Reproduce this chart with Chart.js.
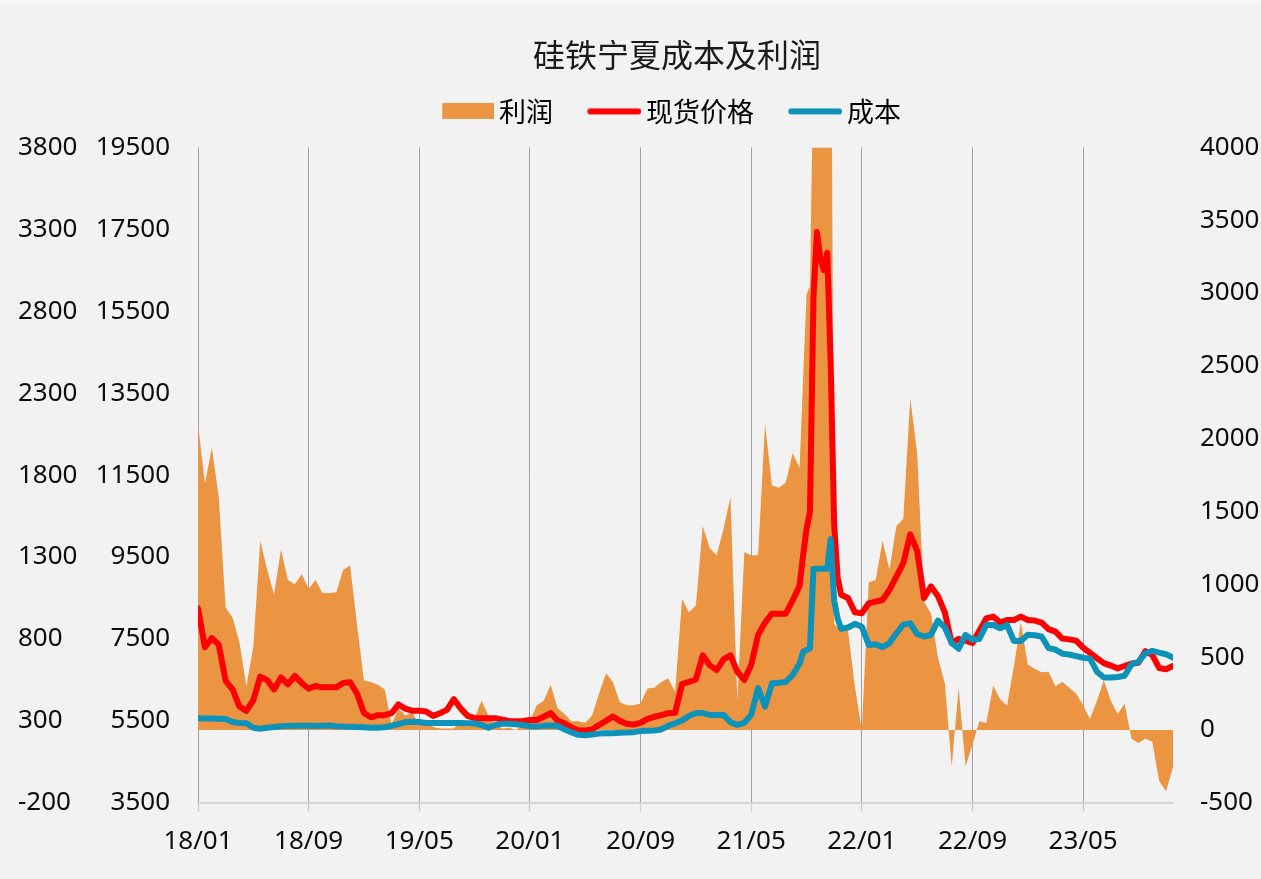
<!DOCTYPE html>
<html lang="zh-CN">
<head>
<meta charset="utf-8">
<title>硅铁宁夏成本及利润</title>
<script src="https://cdn.jsdelivr.net/npm/chart.js@4.4.1/dist/chart.umd.min.js"></script>
<style>
  html, body { margin: 0; padding: 0; }
  body {
    width: 1261px; height: 879px; overflow: hidden;
    background: linear-gradient(#f7f7f7 0, #f7f7f7 5px, #f2f2f2 5px);
  }
  canvas { display: block; }
</style>
</head>
<body>
<canvas id="chart" width="1261" height="879"></canvas>
<script>
// Axis labels along the bottom (yy/mm), one every eight months
const X_LABELS = ['18/01', '18/09', '19/05', '20/01', '20/09', '21/05', '22/01', '22/09', '23/05'];

// Observation points in months since Jan 2018: twice a month,
// weekly through the autumn-2021 price spike
const PERIODS = [];
for (let m = 0; m <= 43.5; m += 0.5) PERIODS.push(m);
for (let m = 43.75; m <= 46.5; m += 0.25) PERIODS.push(m);
for (let m = 47; m <= 70.5; m += 0.5) PERIODS.push(m);

// 利润 (yuan/t, right axis)
const PROFIT = [
  2100, 1690, 1937, 1600, 840, 770, 600, 300, 570, 1300,
  1100, 930, 1240, 1030, 1000, 1071, 970, 1030, 940, 940,
  945, 1100, 1130, 720, 340, 330, 310, 280, 40, 150,
  100, 120, 30, 60, 20, 10, 10, 10, 60, 20,
  80, 200, 100, 30, 10, 15, 0, 40, 60, 170,
  200, 310, 150, 110, 60, 60, 50, 100, 250, 390,
  330, 190, 170, 170, 182, 285, 290, 330, 353, 262,
  900, 809, 855, 1400, 1250, 1200, 1380, 1600, 200, 1220,
  1200, 1200, 2100, 1680, 1664, 1700, 1900, 1801,
  2408, 2991, 3050, 4600, 7200, 7000, 7100, 7000, 6000, 730, 700, 730,
  680, 296, 0, 1013, 1030, 1300, 1100, 1400, 1450, 2280,
  1900, 880, 800, 500, 320, -250, 290, -250, -100, 60,
  50, 304, 213, 167, 441, 740, 450, 420, 396, 400,
  300, 330, 290, 250, 170, 75, 200, 340, 200, 110,
  180, -60, -90, -60, -80, -350, -420, -256
];

// 现货价格 (yuan/t, inner left axis)
const SPOT_PRICE = [
  8250, 7300, 7519, 7363, 6475, 6267, 5850, 5745, 6006, 6580,
  6496, 6267, 6559, 6392, 6600, 6423, 6287, 6350, 6319, 6319,
  6319, 6423, 6444, 6162, 5692, 5588, 5640, 5640, 5692, 5901,
  5797, 5745, 5745, 5727, 5622, 5688, 5768, 6030, 5800, 5622,
  5566, 5566, 5566, 5566, 5530, 5500, 5490, 5500, 5524, 5524,
  5600, 5688, 5510, 5440, 5340, 5270, 5265, 5290, 5400, 5500,
  5605, 5500, 5430, 5410, 5450, 5549, 5600, 5640, 5687, 5700,
  6400, 6450, 6510, 7100, 6860, 6740, 7000, 7100, 6700, 6500,
  6862, 7600, 7900, 8117, 8117, 8117, 8441, 8800,
  9535, 10183, 10600, 15800, 17437, 16800, 16500, 16930, 14200, 10300, 9000, 8580,
  8500, 8150, 8127, 8370, 8411, 8450, 8700, 9020, 9350, 10050,
  9650, 8500, 8780, 8550, 8150, 7400, 7500, 7460, 7400, 7700,
  8000, 8045, 7900, 7964, 7964, 8045, 7964, 7950, 7900, 7740,
  7680, 7510, 7490, 7460, 7290, 7160, 7030, 6910, 6850, 6780,
  6840, 6900, 6920, 7200, 7110, 6790, 6762, 6843
];

// 成本 (yuan/t, inner left axis)
const COST = [
  5567, 5560, 5555, 5550, 5545, 5470, 5450, 5440, 5330, 5310,
  5330, 5350, 5370, 5375, 5380, 5380, 5378, 5375, 5380, 5385,
  5370, 5360, 5355, 5350, 5345, 5335, 5330, 5345, 5380, 5420,
  5470, 5480, 5470, 5450, 5450, 5450, 5450, 5450, 5450, 5440,
  5440, 5400, 5330, 5400, 5430, 5430, 5420, 5400, 5370, 5360,
  5380, 5390, 5380, 5290, 5220, 5160, 5150, 5165, 5190, 5200,
  5200, 5210, 5215, 5225, 5250, 5258, 5265, 5290, 5380, 5440,
  5510, 5620, 5690, 5690, 5646, 5646, 5646, 5470, 5400, 5450,
  5650, 6300, 5850, 6416, 6430, 6450, 6620, 6900,
  7186, 7230, 7266, 9211, 9211, 9211, 9211, 9211, 9940, 8440, 8000, 7750,
  7780, 7870, 7800, 7354, 7370, 7300, 7400, 7639, 7850, 7880,
  7620, 7560, 7600, 7950, 7780, 7400, 7260, 7600, 7480, 7500,
  7842, 7842, 7760, 7842, 7450, 7450, 7600, 7590, 7560, 7280,
  7240, 7140, 7120, 7080, 7040, 7020, 6700, 6560, 6560, 6570,
  6600, 6880, 6939, 7150, 7210, 7166, 7126, 7045
];

const SERIES_NAMES = ['利润', '现货价格', '成本'];
const COLORS = { profit: '#eb9442', price: '#ff0000', cost: '#0d93b9' };

// "yy/mm" -> months since Jan 2018
const labelToMonth = (s) => {
  const [yy, mm] = s.split('/').map(Number);
  return (yy - 18) * 12 + (mm - 1);
};
const pairs = (vals) => vals.map((v, i) => ({ x: PERIODS[i], y: v }));

// Legend swatches: a filled block for the area series, a short stroke for lines
function swatch(kind, color) {
  const c = document.createElement('canvas');
  c.width = 87; c.height = 16;
  const g = c.getContext('2d');
  if (kind === 'rect') {
    g.fillStyle = color;
    g.fillRect(35, 0, 52, 16);
  } else {
    g.strokeStyle = color;
    g.lineWidth = 6;
    g.lineCap = 'round';
    g.beginPath();
    g.moveTo(36, 8);
    g.lineTo(84, 8);
    g.stroke();
  }
  return c;
}
const LEGEND_MARKS = [swatch('rect', COLORS.profit), swatch('line', COLORS.price), swatch('line', COLORS.cost)];

// Nudges the title and legend blocks after layout
const headerShift = {
  id: 'headerShift',
  afterLayout(chart, args, opts) {
    const move = (box, dx, dy) => {
      if (!box) return;
      box.left += dx; box.right += dx;
      box.top += dy; box.bottom += dy;
    };
    move(chart.titleBlock, opts.titleX || 0, 0);
    move(chart.legend, opts.legendX || 0, opts.legendY || 0);
  }
};

const tickFont = { family: '"Noto Sans", "Open Sans", sans-serif', size: 26 };
const cjkFont = '"Noto Sans CJK SC", "Noto Sans", sans-serif';
const plainNumber = (v) => String(v);
const fixedWidth = (w) => (scale) => { scale.width = w; };

new Chart(document.getElementById('chart'), {
  type: 'line',
  data: {
    datasets: [
      {
        label: SERIES_NAMES[0],
        data: pairs(PROFIT),
        yAxisID: 'yRight',
        fill: 'origin',
        backgroundColor: COLORS.profit,
        borderColor: COLORS.profit,
        borderWidth: 0,
        pointRadius: 0,
        tension: 0,
        order: 3
      },
      {
        label: SERIES_NAMES[1],
        data: pairs(SPOT_PRICE),
        yAxisID: 'yPrice',
        fill: false,
        borderColor: COLORS.price,
        borderWidth: 6,
        borderJoinStyle: 'round',
        borderCapStyle: 'round',
        pointRadius: 0,
        tension: 0,
        order: 2
      },
      {
        label: SERIES_NAMES[2],
        data: pairs(COST),
        yAxisID: 'yPrice',
        fill: false,
        borderColor: COLORS.cost,
        borderWidth: 6,
        borderJoinStyle: 'round',
        borderCapStyle: 'round',
        pointRadius: 0,
        tension: 0,
        order: 1
      }
    ]
  },
  options: {
    responsive: false,
    animation: false,
    events: [],
    layout: { padding: { left: 18, right: 1.5, top: 0, bottom: 8 } },
    scales: {
      x: {
        type: 'linear',
        min: 0,
        max: 70.5,
        afterBuildTicks: (scale) => {
          scale.ticks = X_LABELS.map((l) => ({ value: labelToMonth(l) }));
        },
        ticks: {
          autoSkip: false,
          maxRotation: 0,
          padding: 14,
          color: '#0d0d0d',
          font: tickFont,
          callback: (v, i) => X_LABELS[i]
        },
        grid: {
          color: '#9e9e9e',
          lineWidth: 1,
          drawTicks: true,
          tickLength: 9,
          tickColor: '#d0d0d0',
          tickWidth: 1.5
        },
        border: { display: true, color: '#d4d4d4', width: 2 }
      },
      yOuter: {
        type: 'linear',
        position: 'left',
        weight: 1,
        min: -200,
        max: 3800,
        afterFit: fixedWidth(77.5),
        ticks: { stepSize: 500, crossAlign: 'far', padding: 18, color: '#0d0d0d', font: tickFont, callback: plainNumber },
        grid: { display: false, drawTicks: false },
        border: { display: false }
      },
      yPrice: {
        type: 'linear',
        position: 'left',
        weight: 0,
        min: 3500,
        max: 19500,
        afterFit: fixedWidth(102.5),
        ticks: { stepSize: 2000, padding: 28, color: '#0d0d0d', font: tickFont, callback: plainNumber },
        grid: { display: false, drawTicks: false },
        border: { display: false }
      },
      yRight: {
        type: 'linear',
        position: 'right',
        min: -500,
        max: 4000,
        afterFit: fixedWidth(86.5),
        ticks: { stepSize: 500, padding: 27, color: '#0d0d0d', font: tickFont, callback: plainNumber },
        grid: { display: false, drawTicks: false },
        border: { display: false }
      }
    },
    plugins: {
      title: {
        display: true,
        text: '硅铁宁夏成本及利润',
        fullSize: false,
        color: '#1a1a1a',
        font: { family: cjkFont, size: 32, weight: 'normal' },
        padding: { top: 36, bottom: 26 }
      },
      legend: {
        display: true,
        position: 'top',
        fullSize: false,
        labels: {
          usePointStyle: true,
          pointStyleWidth: 69.5,
          padding: 10,
          color: '#1a1a1a',
          font: { family: cjkFont, size: 27 },
          generateLabels: (chart) => chart.data.datasets.map((ds, i) => ({
            text: ds.label,
            fillStyle: 'transparent',
            strokeStyle: 'transparent',
            lineWidth: 0,
            pointStyle: LEGEND_MARKS[i],
            hidden: false,
            datasetIndex: i
          }))
        }
      },
      tooltip: { enabled: false },
      headerShift: { titleX: -8.5, legendX: -27, legendY: -12.5 }
    }
  },
  plugins: [headerShift]
});
</script>
</body>
</html>
